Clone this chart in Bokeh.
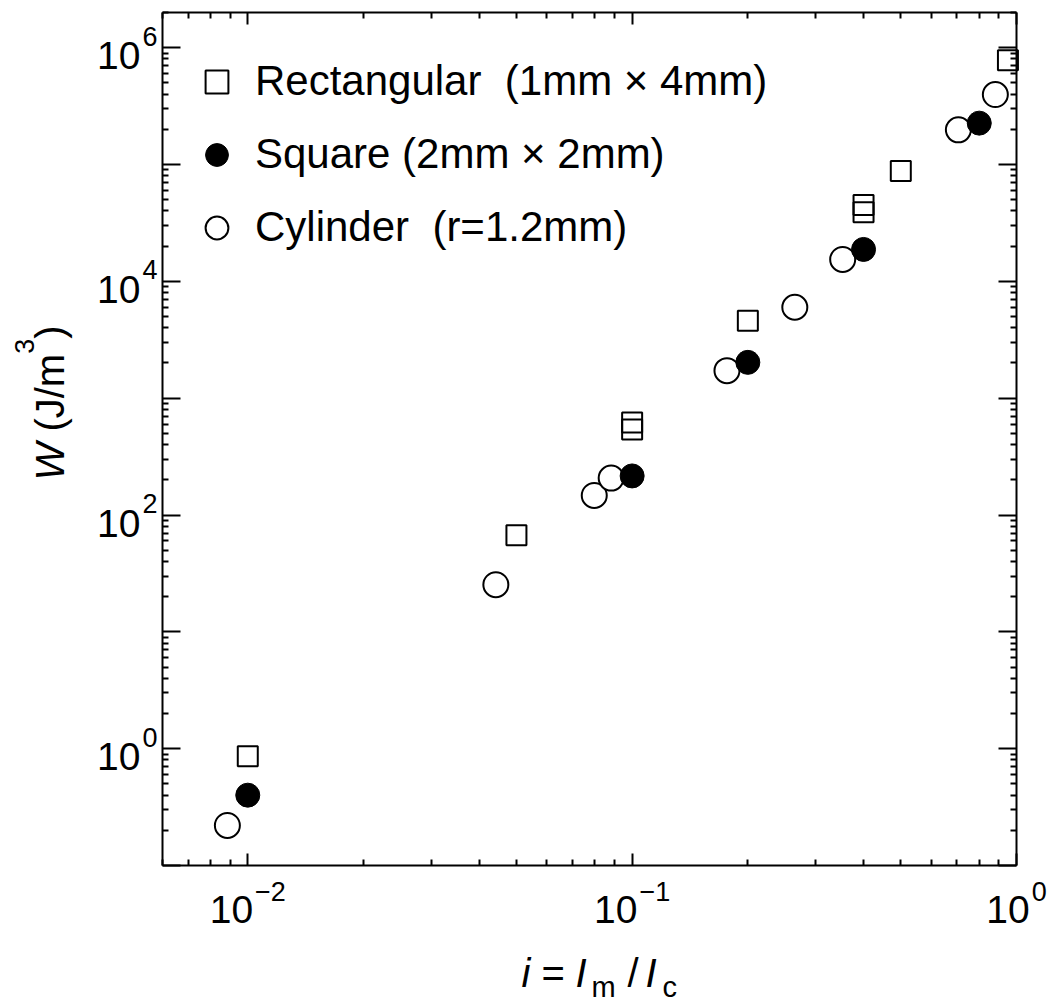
import math
from bokeh.plotting import figure
from bokeh.models import (LogAxis, FixedTicker, Label, Legend, LegendItem, Range1d,
                          CustomJSTickFormatter)
from bokeh.embed import file_html
from bokeh.resources import INLINE

# ---------------- data ----------------
rect_x = [0.01, 0.05, 0.1, 0.1, 0.2, 0.4, 0.4, 0.5, 0.95]
rect_y = [0.86, 67, 620, 540, 4600, 45000, 39000, 88000, 780000]

square_x = [0.01, 0.1, 0.2, 0.4, 0.8]
square_y = [0.40, 216, 2025, 18750, 226000]

cyl_x = [0.00885, 0.0442, 0.0797, 0.0882, 0.1765, 0.265, 0.353, 0.706, 0.881]
cyl_y = [0.22, 25.3, 147, 207, 1720, 6000, 15400, 198000, 397000]

legend_labels = ["Rectangular\u00a0 (1mm \u00d7 4mm)",
                 "Square (2mm \u00d7 2mm)",
                 "Cylinder\u00a0 (r=1.2mm)"]

x_tick_values = [0.01, 0.1, 1.0]
x_tick_exponents = ["\u22122", "\u22121", "0"]
y_tick_values = [1.0, 1e2, 1e4, 1e6]
y_tick_exponents = ["0", "2", "4", "6"]

# axis limits of the plotting box
X0, X1 = 0.006, 1.0
Y0, Y1 = 0.1, 2e6

# ---------------- layout / style ----------------
FONT = "Liberation Sans"
BASE_PX = 39
SUP_PX = 27
MID = 0.3465          # text-box middle above the baseline, in em
ADV = {"0": 556, "1": 556, "2": 556, "3": 556, "4": 556, "6": 556,
       "\u2212": 584, " ": 278, "\u00a0": 278, "(": 333, ")": 333,
       "J": 500, "/": 278, "m": 833, "W": 944}


def tw(s, px):
    return sum(ADV.get(ch, 556) for ch in s) / 1000.0 * px


FW, FH = 1050, 1005                      # canvas == frame
BOX_L, BOX_R, BOX_T, BOX_B = 162, 1016, 12, 865   # plotting box in pixels

ppd_x = (BOX_R - BOX_L) / math.log10(X1 / X0)
ppd_y = (BOX_B - BOX_T) / math.log10(Y1 / Y0)
xr = Range1d(10 ** (math.log10(X0) - BOX_L / ppd_x),
             10 ** (math.log10(X1) + (FW - BOX_R) / ppd_x))
yr = Range1d(10 ** (math.log10(Y0) - (FH - BOX_B) / ppd_y),
             10 ** (math.log10(Y1) + BOX_T / ppd_y))

p = figure(x_axis_type="log", y_axis_type="log", x_range=xr, y_range=yr,
           frame_width=FW, frame_height=FH, min_border=0,
           x_axis_location=None, y_axis_location=None,
           output_backend="svg", toolbar_location=None,
           background_fill_color="white", border_fill_color="white",
           outline_line_color=None)
p.grid.visible = False

EPS = 1e-9
x_major = [10.0 ** e for e in range(-2, 1)]
x_minor = [k * 10.0 ** e for e in range(-3, 0) for k in range(2, 10)
           if X0 * (1 - EPS) <= k * 10.0 ** e <= X1 * (1 + EPS)]
y_major = [10.0 ** e for e in range(-1, 7)]
y_minor = [k * 10.0 ** e for e in range(-1, 7) for k in range(2, 10)
           if Y0 * (1 - EPS) <= k * 10.0 ** e <= Y1 * (1 + EPS)]


def box_axis(loc, bounds, ticks, minors, major_len):
    return LogAxis(fixed_location=loc, bounds=bounds,
                   ticker=FixedTicker(ticks=ticks, minor_ticks=minors),
                   formatter=CustomJSTickFormatter(code="return ''"),
                   axis_line_width=2, axis_line_color="black",
                   major_tick_in=major_len, major_tick_out=0,
                   minor_tick_in=6, minor_tick_out=0,
                   major_tick_line_width=2, minor_tick_line_width=2,
                   major_tick_line_color="black", minor_tick_line_color="black",
                   major_label_text_font_size="0px", major_label_standoff=0,
                   axis_label=None)


p.add_layout(box_axis(Y0, (X0, X1), x_major, x_minor, 12), "below")
p.add_layout(box_axis(Y1, (X0, X1), x_major, x_minor, 12), "above")
p.add_layout(box_axis(X0, (Y0, Y1), y_major, y_minor, 18), "left")
p.add_layout(box_axis(X1, (Y0, Y1), y_major, y_minor, 18), "right")

# ---------------- data marks ----------------
r_cyl = p.scatter(cyl_x, cyl_y, marker="circle", size=25, fill_color="white",
                  line_color="black", line_width=2)
r_sq = p.scatter(square_x, square_y, marker="circle", size=24, fill_color="black",
                 line_color="black", line_width=1)
r_rect = p.scatter(rect_x, rect_y, marker="square", size=20, fill_color=None,
                   line_color="black", line_width=2)

LEG_H = 3 * 57 + 2 * 16
legend = Legend(items=[LegendItem(label=legend_labels[0], renderers=[r_rect]),
                       LegendItem(label=legend_labels[1], renderers=[r_sq]),
                       LegendItem(label=legend_labels[2], renderers=[r_cyl])],
                location=(BOX_L + 26, FH - (BOX_T + 40.5) - LEG_H),
                orientation="vertical", glyph_width=57, glyph_height=57,
                label_height=57, label_standoff=10, spacing=16, padding=0,
                margin=0, border_line_color=None, background_fill_alpha=0,
                label_text_font=FONT, label_text_font_size="42px",
                label_text_color="black")
p.add_layout(legend, "center")


def lab(**kw):
    kw.setdefault("text_font", FONT)
    kw.setdefault("text_color", "black")
    kw.setdefault("text_baseline", "middle")
    p.add_layout(Label(**kw))


# ---------------- tick labels: "10" + superscript exponent ----------------
GAP = 2
for v, e in zip(x_tick_values, x_tick_exponents):
    w10 = tw("10", BASE_PX)
    ws = tw(e, SUP_PX)
    left = -(w10 + GAP + ws) / 2.0
    lab(x=v, y=Y0, text="10", x_offset=left,
        y_offset=-(923 - MID * BASE_PX - BOX_B),
        text_align="left", text_font_size=f"{BASE_PX}px")
    lab(x=v, y=Y0, text=e, x_offset=left + w10 + GAP,
        y_offset=-(900 - MID * SUP_PX - BOX_B),
        text_align="left", text_font_size=f"{SUP_PX}px")

for v, e in zip(y_tick_values, y_tick_exponents):
    ws = tw(e, SUP_PX)
    lab(x=X0, y=v, text=e, x_offset=-5, y_offset=2 + MID * SUP_PX,
        text_align="right", text_font_size=f"{SUP_PX}px")
    lab(x=X0, y=v, text="10", x_offset=-5 - ws - GAP,
        y_offset=-21.7 + MID * BASE_PX,
        text_align="right", text_font_size=f"{BASE_PX}px")

# ---------------- x axis title: i = I_m / I_c ----------------
for txt, xx, base, size, style in [("i", 521, 986, 40, "italic"),
                                   ("=", 541, 986, 40, "normal"),
                                   ("I", 575, 986, 40, "italic"),
                                   ("m", 591, 997, 29, "normal"),
                                   ("/", 627, 986, 40, "normal"),
                                   ("I", 645, 986, 40, "italic"),
                                   ("c", 662, 997, 29, "normal")]:
    lab(x=xx, y=FH - (base - MID * size), x_units="screen", y_units="screen",
        text=txt, text_align="left", text_font_size=f"{size}px",
        text_font_style=style)

# ---------------- y axis title: W (J/m^3), bottom to top ----------------
# each piece is centred on its own anchor, so the rotation cannot shift it
ybase = 63          # baseline (pixels from the left) of the rotated title
start = 480         # bottom end of the title (pixels from the top)
pos = start
for txt, size, style, raise_px in [("W", 40, "italic", 0),
                                   ("\u00a0(J/m", 40, "normal", 0),
                                   ("3", 27, "normal", 30),
                                   (")", 40, "normal", 0)]:
    w = tw(txt, size)
    cx = ybase - raise_px - MID * size
    cy = pos - w / 2.0
    lab(x=cx, y=FH - cy, x_units="screen", y_units="screen", text=txt,
        angle=math.pi / 2, text_align="center", text_font_size=f"{size}px",
        text_font_style=style)
    pos -= w

open("out.html", "w").write(file_html(p, INLINE))
